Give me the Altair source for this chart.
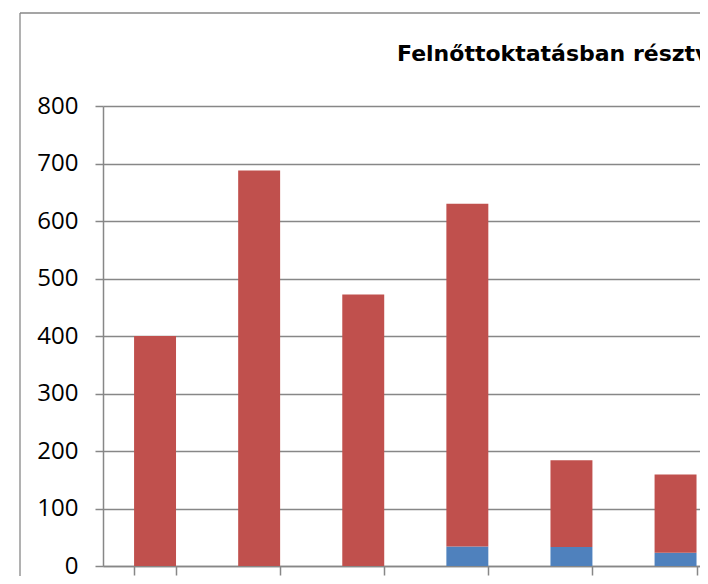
import altair as alt
import pandas as pd

# ---- data ----
categories = ["1", "2", "3", "4", "5", "6"]
series_names = ["1. adatsor", "2. adatsor"]
blue_values = [0, 0, 0, 34, 33, 23]
red_values = [400, 688, 472, 596, 151, 136]
y_ticks = [0, 100, 200, 300, 400, 500, 600, 700, 800]
title_text = "Felnőttoktatásban résztvevők száma"

rows = []
for i, c in enumerate(categories):
    rows.append({"cat": c, "series": series_names[0], "value": blue_values[i], "ord": 0})
    rows.append({"cat": c, "series": series_names[1], "value": red_values[i], "ord": 1})
df = pd.DataFrame(rows)

GRAY = "#878787"
STEP = 104.1
FONT = "Open Sans"

bars = alt.Chart(df).mark_bar().encode(
    x=alt.X(
        "cat:N",
        sort=categories,
        scale=alt.Scale(domain=categories, range=[0, 6 * STEP],
                        paddingInner=0.597, paddingOuter=0.2985),
        axis=alt.Axis(labels=False, title=None, tickBand="extent", grid=False,
                      domainColor=GRAY, domainWidth=1.5, tickColor=GRAY,
                      tickWidth=1.5, tickSize=9),
    ),
    y=alt.Y(
        "value:Q",
        stack="zero",
        scale=alt.Scale(domain=[0, 800], nice=False),
        axis=alt.Axis(values=y_ticks, title=None, grid=True, gridColor=GRAY,
                      gridWidth=1.5, domainColor=GRAY, domainWidth=1.5,
                      tickColor=GRAY, tickWidth=1.5, tickSize=8,
                      labelPadding=17, labelFont=FONT, labelFontSize=24,
                      labelColor="black"),
    ),
    color=alt.Color("series:N",
                    scale=alt.Scale(domain=series_names, range=["#4F81BD", "#C0504D"]),
                    legend=None),
    order=alt.Order("ord:Q", sort="ascending"),
)

one = pd.DataFrame({"k": [0]})
frame_top = alt.Chart(one).mark_rule(color=GRAY, strokeWidth=1.3).encode(
    x=alt.value(-83), x2=alt.value(1500), y=alt.value(-93)
)
frame_left = alt.Chart(one).mark_rule(color=GRAY, strokeWidth=1.3).encode(
    x=alt.value(-83), y=alt.value(-93), y2=alt.value(1500)
)

title = alt.Chart(pd.DataFrame({"t": [title_text]})).mark_text(
    align="left", baseline="alphabetic", font="DejaVu Sans", fontWeight="bold",
    fontSize=22, color="black"
).encode(
    x=alt.value(294), y=alt.value(-45.3), text="t:N"
)

chart = alt.layer(frame_top, frame_left, bars, title).properties(
    width=597,
    height=460,
    autosize=alt.AutoSizeParams(type="none"),
    padding={"left": 95, "top": 98, "right": 0, "bottom": 10},
    background="white",
).configure_view(strokeWidth=0)

chart.save("out.html", embed_options={"renderer": "svg", "actions": False})
